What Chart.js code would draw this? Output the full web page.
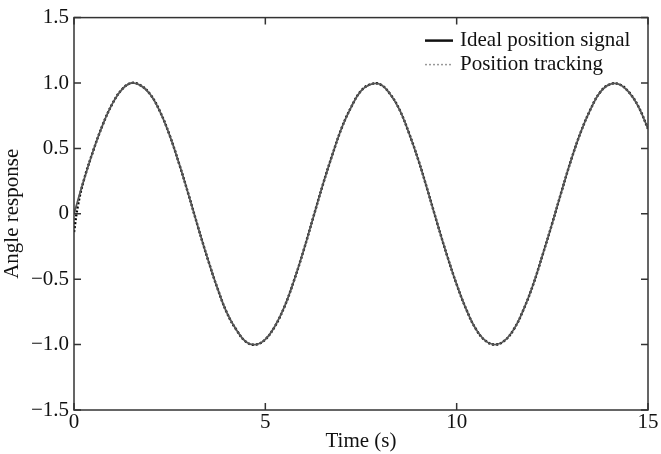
<!DOCTYPE html>
<html>
<head>
<meta charset="utf-8">
<script src="https://cdn.jsdelivr.net/npm/chart.js@4/dist/chart.umd.min.js"></script>
<style>
  html, body { margin: 0; padding: 0; background: #fff; }
  #wrap { width: 661px; height: 454px; }
</style>
</head>
<body>
<div id="wrap"><canvas id="c"></canvas></div>
<script>
// time samples (s) and values
const time = [0, 0.25, 0.5, 0.75, 1, 1.25, 1.5, 1.75, 2, 2.25, 2.5, 2.75, 3, 3.25, 3.5, 3.75, 4, 4.25, 4.5, 4.75,
  5, 5.25, 5.5, 5.75, 6, 6.25, 6.5, 6.75, 7, 7.25, 7.5, 7.75, 8, 8.25, 8.5, 8.75, 9, 9.25, 9.5, 9.75,
  10, 10.25, 10.5, 10.75, 11, 11.25, 11.5, 11.75, 12, 12.25, 12.5, 12.75, 13, 13.25, 13.5, 13.75, 14, 14.25, 14.5, 14.75, 15];
const ideal = [0.00, 0.25, 0.48, 0.68, 0.84, 0.95, 1.00, 0.98, 0.91, 0.78, 0.60, 0.38, 0.14, -0.11, -0.35, -0.57, -0.76, -0.89, -0.98, -1.00,
  -0.96, -0.86, -0.71, -0.51, -0.28, -0.03, 0.22, 0.45, 0.66, 0.82, 0.94, 0.99, 0.99, 0.92, 0.80, 0.62, 0.41, 0.17, -0.08, -0.32,
  -0.54, -0.73, -0.88, -0.97, -1.00, -0.97, -0.88, -0.73, -0.54, -0.31, -0.07, 0.18, 0.42, 0.63, 0.80, 0.93, 0.99, 0.99, 0.93, 0.82, 0.65];
const trackTime = [0, 0.1].concat(time.slice(1));
const tracking = [-0.14, 0.06].concat(ideal.slice(1));

const xTicks = [0, 5, 10, 15];
const yTicks = [-1.5, -1.0, -0.5, 0, 0.5, 1.0, 1.5];
const seriesNames = ['Ideal position signal', 'Position tracking'];

const serif = "'Liberation Serif', 'DejaVu Serif', serif";
const fmt = v => (v === 0 ? '0' : (v < 0 ? '\u2212' : '') + Math.abs(v).toFixed(1));

// frame, inward ticks and the legend inside the plot
const framePlugin = {
  id: 'frame',
  afterDraw(chart) {
    const { ctx, chartArea: a, scales } = chart;
    ctx.save();
    ctx.strokeStyle = '#333';
    ctx.lineWidth = 1.5;
    ctx.strokeRect(a.left, a.top, a.right - a.left, a.bottom - a.top);
    ctx.beginPath();
    xTicks.forEach(v => {
      const x = scales.x.getPixelForValue(v);
      ctx.moveTo(x, a.bottom); ctx.lineTo(x, a.bottom - 7);
      ctx.moveTo(x, a.top); ctx.lineTo(x, a.top + 7);
    });
    yTicks.forEach(v => {
      const y = scales.y.getPixelForValue(v);
      ctx.moveTo(a.left, y); ctx.lineTo(a.left + 7, y);
      ctx.moveTo(a.right, y); ctx.lineTo(a.right - 7, y);
    });
    ctx.stroke();

    // legend
    const ds = chart.data.datasets;
    ctx.font = '21px ' + serif;
    ctx.textBaseline = 'middle';
    ctx.fillStyle = '#111';
    ds.forEach((d, i) => {
      const y = a.top + 23 + i * 24;
      ctx.beginPath();
      ctx.strokeStyle = i === 0 ? '#111' : '#999';
      ctx.lineWidth = i === 0 ? 2.5 : 1.5;
      ctx.setLineDash(d.borderDash || []);
      ctx.moveTo(a.left + 351, y); ctx.lineTo(a.left + 379, y);
      ctx.stroke();
      ctx.setLineDash([]);
      ctx.fillText(d.label, a.left + 386, y);
    });
    ctx.restore();
  }
};

new Chart(document.getElementById('c'), {
  type: 'line',
  data: {
    datasets: [{
      label: seriesNames[0],
      data: time.map((t, i) => ({ x: t, y: ideal[i] })),
      borderColor: '#555',
      borderWidth: 1.8,
      pointRadius: 0,
      tension: 0.4,
    }, {
      label: seriesNames[1],
      data: trackTime.map((t, i) => ({ x: t, y: tracking[i] })),
      borderColor: '#000',
      borderWidth: 2.4,
      borderDash: [2, 2],
      pointRadius: 0,
      tension: 0.4,
    }]
  },
  options: {
    responsive: true,
    maintainAspectRatio: false,
    animation: false,
    layout: { padding: { top: 16, right: 13, left: 0, bottom: 0 } },
    plugins: { legend: { display: false }, tooltip: { enabled: false } },
    scales: {
      x: {
        type: 'linear', min: 0, max: 15,
        afterBuildTicks: s => { s.ticks = xTicks.map(v => ({ value: v })); },
        afterFit: s => { s.height = 44; },
        grid: { display: false, drawTicks: false },
        border: { display: false },
        ticks: { color: '#111', font: { family: serif, size: 21 }, padding: 0, maxRotation: 0 },
        title: { display: true, text: 'Time (s)', color: '#111', font: { family: serif, size: 21 }, padding: { top: 0, bottom: 0 } }
      },
      y: {
        type: 'linear', min: -1.5, max: 1.5,
        afterBuildTicks: s => { s.ticks = yTicks.map(v => ({ value: v })); },
        afterFit: s => { s.width = 74; },
        grid: { display: false, drawTicks: false },
        border: { display: false },
        ticks: { color: '#111', font: { family: serif, size: 21 }, padding: 5, callback: v => fmt(v) },
        title: { display: true, text: 'Angle response', color: '#111', font: { family: serif, size: 21 }, padding: { top: 0, bottom: 0 } }
      }
    }
  },
  plugins: [framePlugin]
});
</script>
</body>
</html>
